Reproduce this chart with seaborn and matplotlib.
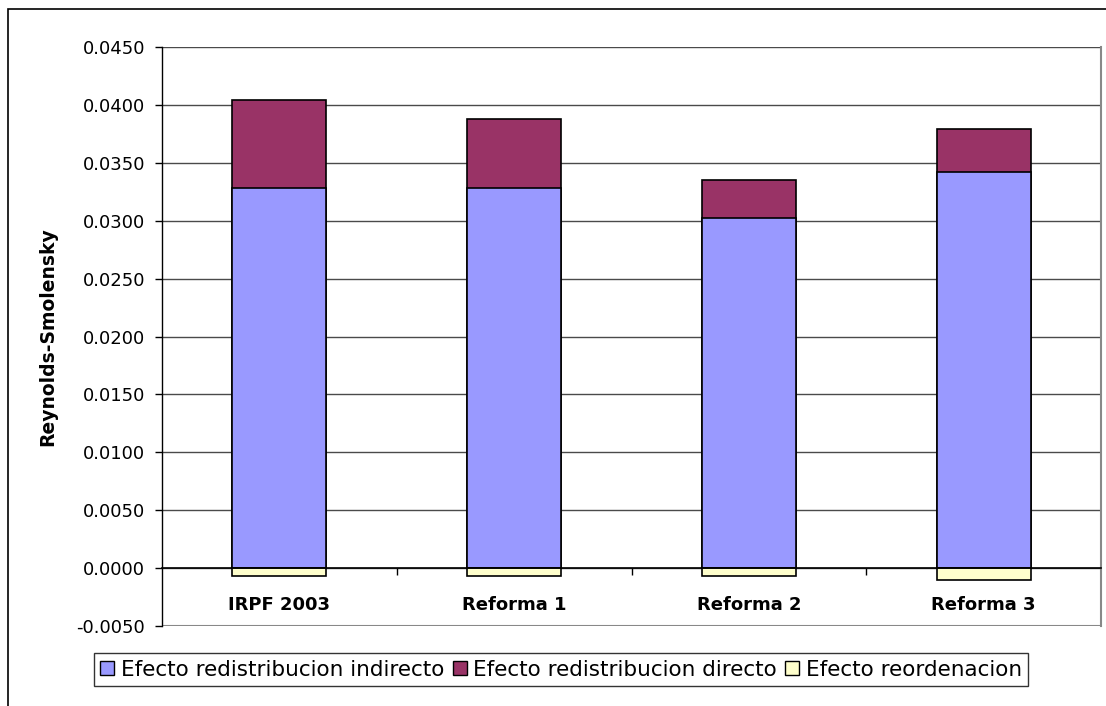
import matplotlib
matplotlib.use("Agg")
import matplotlib.pyplot as plt
from matplotlib.patches import Rectangle, Patch
import seaborn as sns
import pandas as pd
import numpy as np

categories = ["IRPF 2003", "Reforma 1", "Reforma 2", "Reforma 3"]
indirecto = [0.0328, 0.0328, 0.0302, 0.0342]
directo = [0.0076, 0.0060, 0.0033, 0.0037]
reordenacion = [-0.0007, -0.0007, -0.0007, -0.0010]
series_names = ["Efecto redistribucion indirecto", "Efecto redistribucion directo", "Efecto reordenacion"]
yticks = [-0.005, 0.0, 0.005, 0.010, 0.015, 0.020, 0.025, 0.030, 0.035, 0.040, 0.045]

c_ind = "#9999FF"
c_dir = "#993366"
c_reo = "#FFFFCC"

sns.set_theme(style="white")
plt.rcParams["font.family"] = ["DejaVu Sans"]
plt.rcParams["text.color"] = "black"
plt.rcParams["axes.labelcolor"] = "black"
plt.rcParams["xtick.color"] = "black"
plt.rcParams["ytick.color"] = "black"

df = pd.DataFrame({"cat": categories, "ind": indirecto, "dir": directo, "reo": reordenacion})
df["total"] = df["ind"] + df["dir"]

fig = plt.figure(figsize=(11.06, 7.06), dpi=100)
ax = fig.add_axes([162/1106, 1 - 626/706, (1101 - 162)/1106, (626 - 47)/706])

for y in yticks[1:]:
    ax.axhline(y, color="#4a4a4a", lw=1, zorder=0)
ax.axhline(-0.005, color="#888888", lw=1.5, zorder=0)

kw = dict(edgecolor="black", linewidth=1.2, width=0.4, ax=ax, zorder=3)
sns.barplot(data=df, x="cat", y="total", color=c_dir, saturation=1, **kw)
sns.barplot(data=df, x="cat", y="ind", color=c_ind, saturation=1, **kw)
sns.barplot(data=df, x="cat", y="reo", color=c_reo, saturation=1, **kw)

ax.set_ylim(-0.005, 0.045)
ax.set_xlim(-0.5, 3.5)
ax.set_yticks(yticks)
ax.set_yticklabels([f"{v:.4f}" for v in yticks], fontsize=13)
ax.set_xlabel("")
ax.set_ylabel("Reynolds-Smolensky", fontsize=13.5, fontweight="bold", labelpad=14)

ax.spines["top"].set_visible(False)
ax.spines["right"].set_color("#888888")
ax.spines["right"].set_linewidth(1.5)
ax.spines["left"].set_color("black")
ax.spines["left"].set_linewidth(1)
ax.spines["bottom"].set_position(("data", 0))
ax.spines["bottom"].set_color("black")
ax.spines["bottom"].set_linewidth(1.2)
ax.spines["bottom"].set_zorder(4)

ax.tick_params(axis="y", which="major", direction="out", length=5, width=1, color="black", pad=7, left=True)
ax.set_xticks(range(len(categories)))
ax.set_xticklabels(categories, fontsize=13, fontweight="bold")
ax.tick_params(axis="x", which="major", length=0, pad=20, bottom=True)
ax.set_xticks([0.5, 1.5, 2.5], minor=True)
ax.tick_params(axis="x", which="minor", direction="out", length=5, width=1, color="black", bottom=True)

frame = Rectangle((8/1106, -0.2), 1.5, 1.2 - 9/706, transform=fig.transFigure,
                  fill=False, edgecolor="black", lw=1.2, clip_on=False)
fig.patches.append(frame)

handles = [Patch(facecolor=c, edgecolor="black", lw=1) for c in (c_ind, c_dir, c_reo)]
leg = fig.legend(handles, series_names, loc="center", bbox_to_anchor=(561/1106, 1 - 669.5/706),
                 ncol=3, fontsize=15.5, frameon=True, fancybox=False, edgecolor="black",
                 handlelength=0.65, handleheight=0.65, handletextpad=0.3, columnspacing=0.4,
                 borderpad=0.3, borderaxespad=0)
leg.get_frame().set_linewidth(1)

fig.savefig("out.png", dpi=100)
